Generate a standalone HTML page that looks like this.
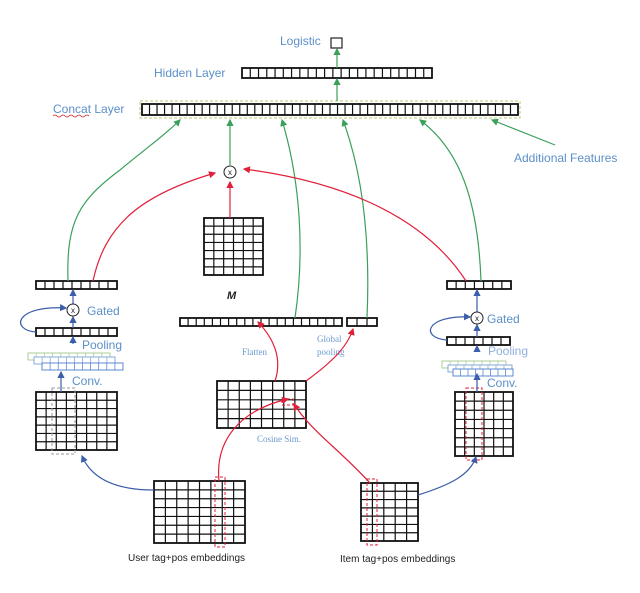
<!DOCTYPE html>
<html><head><meta charset="utf-8"><style>
html,body{margin:0;padding:0;background:#fff;}
svg{display:block;}
text{font-family:"Liberation Sans",sans-serif;}
.b{fill:#5b8fc9;font-size:12px;}
.s{fill:#6a9ad0;font-size:9px;font-family:"Liberation Serif",serif;}
.k{fill:#222;font-size:10px;}
</style></head><body>
<svg id="s" width="640" height="593" viewBox="0 0 640 593" xmlns="http://www.w3.org/2000/svg">
<defs>
<marker id="ag" markerWidth="6" markerHeight="6" refX="5" refY="3" orient="auto"><path d="M0,0 L6,3 L0,6z" fill="#3aa05a"/></marker>
<marker id="ar" markerWidth="6" markerHeight="6" refX="5" refY="3" orient="auto"><path d="M0,0 L6,3 L0,6z" fill="#e0203a"/></marker>
<marker id="ab" markerWidth="6" markerHeight="6" refX="5" refY="3" orient="auto"><path d="M0,0 L6,3 L0,6z" fill="#3b5fa8"/></marker>
</defs>
<g id="g"></g>
<text class="b" x="280" y="45">Logistic</text>
<rect x="331" y="38" width="11" height="10" fill="none" stroke="#222" stroke-width="1.2"/>
<text class="b" x="154" y="77">Hidden Layer</text>
<text class="b" x="53" y="113">Concat Layer</text>
<path d="M53,116 q2,-2 4,0 t4,0 t4,0 t4,0 t4,0 t4,0 t4,0 t4,0 t4,0" stroke="#d02020" fill="none" stroke-width="0.8"/>
<text class="b" x="514" y="162">Additional Features</text>
<text x="227" y="299" style="font-size:11px;font-style:italic;font-weight:bold;fill:#222">M</text>
<text class="b" x="87" y="315">Gated</text>
<text class="b" x="82" y="349">Pooling</text>
<text class="b" x="72" y="385">Conv.</text>
<text class="b" x="487" y="323">Gated</text>
<text class="b" x="488" y="355" style="fill:#8fb0dc">Pooling</text>
<text class="b" x="487" y="387">Conv.</text>
<text class="s" x="242" y="355">Flatten</text>
<text class="s" x="317" y="342">Global</text>
<text class="s" x="317" y="355">pooling</text>
<text class="s" x="257" y="442">Cosine Sim.</text>
<text class="k" x="128" y="561">User tag+pos embeddings</text>
<text class="k" x="340" y="562">Item tag+pos embeddings</text>
<!-- green connectors -->
<g fill="none" stroke="#3aa05a" stroke-width="1.2" marker-end="url(#ag)">
<path d="M337,68 L337,49"/>
<path d="M337,101 L337,79"/>
<path d="M68,281 C66,220 80,200 120,170 C150,145 165,135 180,120"/>
<path d="M230,165 L230,120"/>
<path d="M295,318 C305,250 300,180 282,120"/>
<path d="M367,318 C370,250 365,180 343,120"/>
<path d="M481,281 C478,200 460,150 420,120"/>
<path d="M555,145 L492,120"/>
</g>
<g fill="none" stroke="#e0203a" stroke-width="1.2" marker-end="url(#ar)">
<path d="M93,281 C105,225 140,195 215,173"/>
<path d="M466,281 C420,210 330,180 244,169"/>
<path d="M230,218 L230,182"/>
<path d="M275,381 C282,360 275,340 258,322"/>
<path d="M306,381 C335,360 348,345 353,329"/>
<path d="M219,481 C215,440 240,410 288,399"/>
<path d="M370,483 C340,450 310,430 294,404"/>
</g>
<g fill="none" stroke="#3b5fa8" stroke-width="1.2" marker-end="url(#ab)">
<path d="M154,490 C110,490 90,475 82,456"/>
<path d="M418,495 C450,485 470,475 476,457"/>
<path d="M61,392 L61,372"/>
<path d="M73,344 L73,337"/>
<path d="M73,328 L73,317"/>
<path d="M73,304 L73,290"/>
<path d="M36,332 C10,330 15,305 66,308"/>
<path d="M477,392 L477,374"/>
<path d="M477,351 L477,346"/>
<path d="M477,337 L477,325"/>
<path d="M477,312 L477,290"/>
<path d="M447,340 C420,338 425,315 470,317"/>
</g>
<g fill="#fff" stroke="#222" stroke-width="1">
<circle cx="230" cy="172" r="6"/><circle cx="73" cy="310" r="6"/><circle cx="477" cy="318" r="6"/>
</g>
<g class="k" style="font-size:8px" text-anchor="middle">
<text x="230" y="175">x</text><text x="73" y="313">x</text><text x="477" y="321">x</text>
</g>
</svg>
<script>
var g=document.getElementById('g'),NS='http://www.w3.org/2000/svg';
function el(t,a){var e=document.createElementNS(NS,t);for(var k in a)e.setAttribute(k,a[k]);g.appendChild(e);return e;}
function grid(x,y,w,h,c,r,col,sw){
 el('rect',{x:x,y:y,width:w,height:h,fill:'#fff',stroke:col||'#111','stroke-width':sw||1.8});
 for(var i=1;i<c;i++){var xx=x+w*i/c;el('line',{x1:xx,y1:y,x2:xx,y2:y+h,stroke:col||'#111','stroke-width':sw?sw*0.8:1.2});}
 for(var j=1;j<r;j++){var yy=y+h*j/r;el('line',{x1:x,y1:yy,x2:x+w,y2:yy,stroke:col||'#111','stroke-width':sw?sw*0.8:1.2});}
}
function dash(x,y,w,h,col){el('rect',{x:x,y:y,width:w,height:h,fill:'none',stroke:col,'stroke-width':1,'stroke-dasharray':'3,2'});}
grid(242,68,190,10,23,1);
dash(140,101,380,17,'#b8c870');
grid(142,104,376,11,50,1);
grid(204,218,59,57,6,7);
grid(36,281,81,8,9,1);
grid(36,328,81,8,9,1);
grid(28,353,82,7,10,1,'#a6c98a',0.9);
grid(34,357,81,7,10,1,'#7aa0d8',0.9);
grid(42,363,81,7,10,1,'#4d7ccc',0.9);
grid(36,392,81,58,8,7);
dash(52,388,23,66,'#999');
grid(180,318,162,8,20,1);
grid(347,318,30,8,3,1);
grid(217,381,89,47,8,5);
dash(282,399,11,6,'#e0203a');
grid(154,481,91,62,8,7);
dash(215,477,10,70,'#e0203a');
grid(361,483,57,58,5,7);
dash(367,479,10,66,'#e0203a');
grid(447,281,64,8,7,1);
grid(447,337,63,8,7,1);
grid(442,361,64,7,8,1,'#a6c98a',0.9);
grid(448,365,64,7,8,1,'#7aa0d8',0.9);
grid(453,369,60,7,8,1,'#4d7ccc',0.9);
grid(455,392,58,64,6,7);
dash(466,388,16,72,'#e0203a');
</script>
</body></html>
